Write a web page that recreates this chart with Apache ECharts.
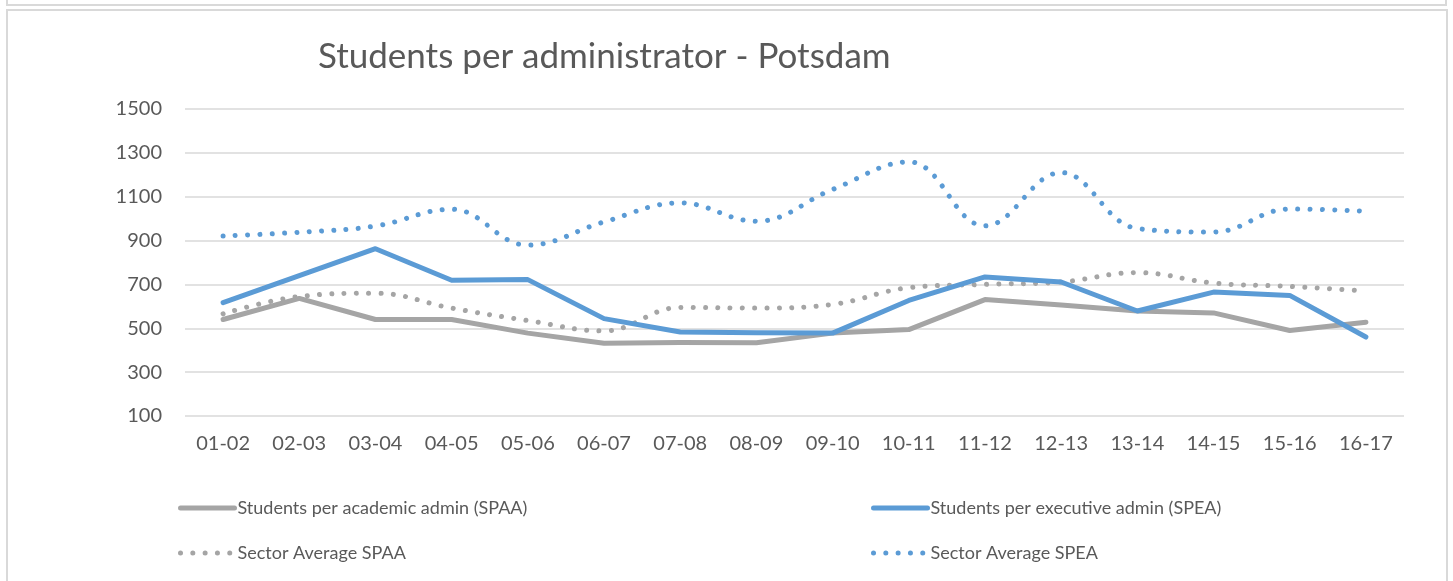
<!DOCTYPE html>
<html>
<head>
<meta charset="utf-8">
<style>
  html, body { margin: 0; padding: 0; background: #ffffff; }
  #chart { width: 1453px; height: 581px; }
</style>
<script src="https://cdn.jsdelivr.net/npm/echarts@6/dist/echarts.min.js"></script>
</head>
<body>
<div id="chart"></div>
<script>
// Academic years on the category axis
const years = ['01-02', '02-03', '03-04', '04-05', '05-06', '06-07', '07-08', '08-09',
               '09-10', '10-11', '11-12', '12-13', '13-14', '14-15', '15-16', '16-17'];

// Students per academic admin (SPAA)
const spaa = [540, 636, 540, 540, 478, 432, 435, 434, 478, 494, 631, 606, 579, 570, 490, 528];
// Students per executive admin (SPEA)
const spea = [617, 740, 863, 719, 722, 544, 483, 480, 478, 627, 734, 711, 579, 665, 650, 460];
// Sector averages
const sectorSpaa = [566, 645, 660, 592, 535, 488, 595, 592, 609, 685, 700, 711, 754, 706, 691, 670];
const sectorSpea = [921, 938, 966, 1043, 879, 985, 1072, 988, 1133, 1259, 967, 1210, 955, 939, 1044, 1034];

const yTicks = { min: 100, max: 1500, interval: 200 };

const GREY = '#A5A5A5';
const BLUE = '#5B9BD5';
const TEXT = '#595959';
const FONT = 'Lato, "Open Sans", sans-serif';
const DOTS = [0.01, 12.3];

const chart = echarts.init(document.getElementById('chart'));

function legendBlock(left, names) {
  return {
    left: left,
    top: 498,
    padding: 0,
    orient: 'vertical',
    itemWidth: 54,
    itemHeight: 20,
    itemGap: 25,
    data: names,
    itemStyle: { opacity: 0 },
    lineStyle: { width: 5 },
    textStyle: { color: TEXT, fontSize: 18, lineHeight: 20, fontFamily: FONT, padding: [0, 0, 0, -2] },
    selectedMode: false
  };
}

chart.setOption({
  animation: false,
  backgroundColor: '#ffffff',
  textStyle: { fontFamily: FONT },
  title: {
    text: 'Students per administrator - Potsdam',
    left: 313,
    top: 34,
    textStyle: { color: TEXT, fontSize: 35, fontWeight: 'normal', fontFamily: FONT }
  },
  graphic: [
    { type: 'rect', shape: { x: 7, y: -20, width: 1439, height: 25 },
      style: { fill: 'none', stroke: '#d9d9d9', lineWidth: 2 }, silent: true },
    { type: 'rect', shape: { x: 7, y: 10, width: 1440, height: 600 },
      style: { fill: 'none', stroke: '#d9d9d9', lineWidth: 2 }, silent: true }
  ],
  legend: [
    legendBlock(178, ['Students per academic admin (SPAA)', 'Sector Average SPAA']),
    legendBlock(871, ['Students per executive admin (SPEA)', 'Sector Average SPEA'])
  ],
  grid: { left: 185, right: 49, top: 109, bottom: 165, containLabel: false },
  xAxis: {
    type: 'category',
    data: years,
    boundaryGap: true,
    axisLine: { show: false },
    axisTick: { show: false },
    axisLabel: { color: TEXT, fontSize: 20, fontFamily: FONT, margin: 18 }
  },
  yAxis: {
    type: 'value',
    min: yTicks.min,
    max: yTicks.max,
    interval: yTicks.interval,
    axisLine: { show: false },
    axisTick: { show: false },
    axisLabel: { color: TEXT, fontSize: 20, fontFamily: FONT, margin: 23, formatter: v => String(v) },
    splitLine: { lineStyle: { color: '#d9d9d9', width: 1.5 } }
  },
  series: [
    {
      name: 'Students per academic admin (SPAA)',
      type: 'line', data: spaa, symbol: 'none', z: 3,
      itemStyle: { color: GREY },
      lineStyle: { color: GREY, width: 5, cap: 'round', join: 'round' }
    },
    {
      name: 'Students per executive admin (SPEA)',
      type: 'line', data: spea, symbol: 'none', z: 4,
      itemStyle: { color: BLUE },
      lineStyle: { color: BLUE, width: 5, cap: 'round', join: 'round' }
    },
    {
      name: 'Sector Average SPAA',
      type: 'line', data: sectorSpaa, symbol: 'none', smooth: 0.4, z: 2,
      itemStyle: { color: GREY },
      lineStyle: { color: GREY, width: 5, type: DOTS, cap: 'round' }
    },
    {
      name: 'Sector Average SPEA',
      type: 'line', data: sectorSpea, symbol: 'none', smooth: 0.4, z: 2,
      itemStyle: { color: BLUE },
      lineStyle: { color: BLUE, width: 5, type: DOTS, cap: 'round' }
    }
  ]
});
</script>
</body>
</html>
